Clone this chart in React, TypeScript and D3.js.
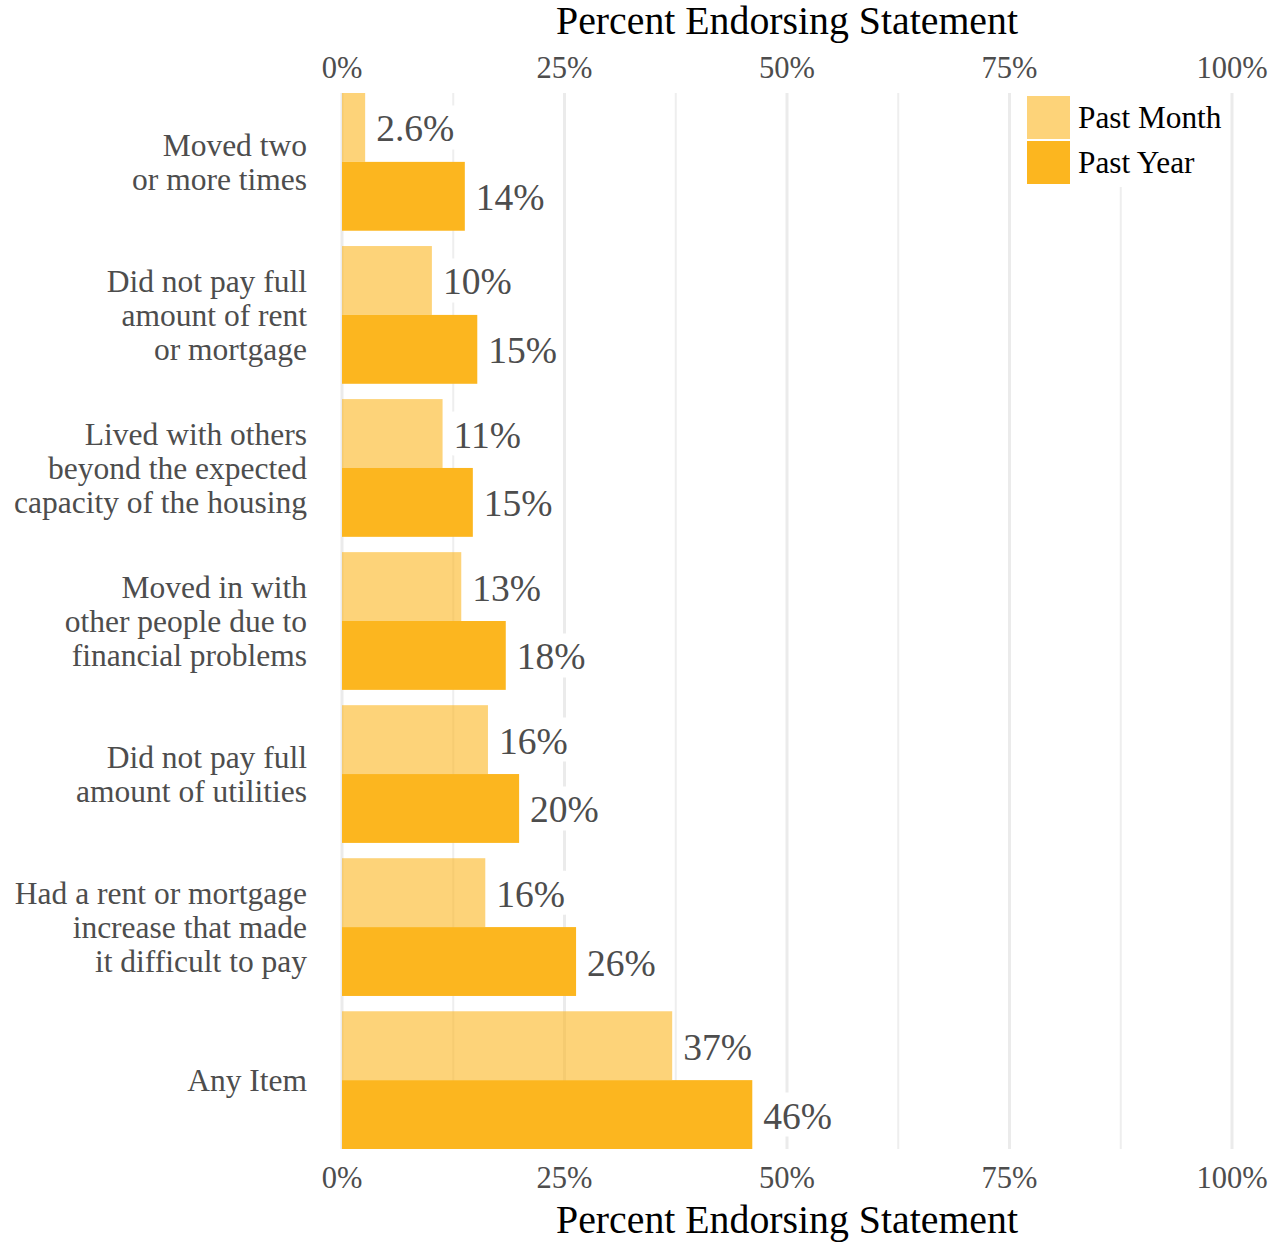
import React from "react";
import * as d3 from "d3";

const categories = [
  "Moved two\nor more times",
  "Did not pay full\namount of rent\nor mortgage",
  "Lived with others\nbeyond the expected\ncapacity of the housing",
  "Moved in with\nother people due to\nfinancial problems",
  "Did not pay full\namount of utilities",
  "Had a rent or mortgage\nincrease that made\nit difficult to pay",
  "Any Item",
];
const pastMonth = [2.6, 10.1, 11.3, 13.4, 16.4, 16.1, 37.1];
const pastYear = [13.8, 15.2, 14.7, 18.4, 19.9, 26.3, 46.1];
const seriesNames = ["Past Month", "Past Year"];
const seriesColors = ["rgba(252,182,31,0.6)", "#FCB61F"];
const majorTicks = [0, 25, 50, 75, 100];
const minorTicks = [12.5, 37.5, 62.5, 87.5];
const axisTitle = "Percent Endorsing Statement";

const W = 1283;
const H = 1243;
const FONT = "'Liberation Serif', 'Times New Roman', serif";

const x = d3.scaleLinear().domain([0, 100]).range([342, 1232]);
const y = d3.scaleBand<number>().domain(d3.range(categories.length)).range([93, 1149]).paddingInner(0.1).paddingOuter(0);
const inner = d3.scaleBand<number>().domain([0, 1]).range([0, y.bandwidth()]);
const fmt = d3.format(".2~r");

function textWidth(s: string, size: number) {
  let w = 0;
  for (const c of s) {
    if (c === "%") w += 0.833;
    else if (c === ".") w += 0.25;
    else w += 0.5;
  }
  return w * size;
}

export default function App() {
  const labelSize = 37.5;
  const data = categories.map((c, i) => ({ c, i, vals: [pastMonth[i], pastYear[i]] }));
  const [top, bottom] = y.range();
  return (
    <svg width={W} height={H} style={{ position: "absolute", left: 0, top: 0, background: "#fff" }} fontFamily={FONT}>
      {/* grid */}
      {minorTicks.map((t) => (
        <line key={"mi" + t} x1={x(t)} x2={x(t)} y1={top} y2={bottom} stroke="#EEEEEE" strokeWidth={2} />
      ))}
      {majorTicks.map((t) => (
        <line key={"ma" + t} x1={x(t)} x2={x(t)} y1={top} y2={bottom} stroke="#EBEBEB" strokeWidth={3} />
      ))}
      {/* bars */}
      {data.map((d) =>
        d.vals.map((v, s) => (
          <rect
            key={`b${d.i}-${s}`}
            x={x(0)}
            y={(y(d.i) as number) + (inner(s) as number)}
            width={x(v) - x(0)}
            height={inner.bandwidth()}
            fill={seriesColors[s]}
          />
        ))
      )}
      {/* value labels */}
      {data.map((d) =>
        d.vals.map((v, s) => {
          const lbl = fmt(v) + "%";
          const cy = (y(d.i) as number) + (inner(s) as number) + inner.bandwidth() / 2;
          const tx = x(v) + 11;
          const tw = textWidth(lbl, labelSize);
          return (
            <g key={`l${d.i}-${s}`}>
              <rect x={tx - 5} y={cy - 22} width={tw + 10} height={44} rx={5} fill="#fff" />
              <text x={tx} y={cy + 14} fontSize={labelSize} fill="#4D4D4D">
                {lbl}
              </text>
            </g>
          );
        })
      )}
      {/* category labels */}
      {data.map((d) => {
        const lines = d.c.split("\n");
        const cy = (y(d.i) as number) + y.bandwidth() / 2;
        const lh = 34;
        const start = cy - ((lines.length - 1) * lh) / 2;
        return (
          <text key={"c" + d.i} x={307} textAnchor="end" fontSize={31.5} fill="#4D4D4D">
            {lines.map((ln, k) => (
              <tspan key={k} x={307} y={start + k * lh + 11}>
                {ln}
              </tspan>
            ))}
          </text>
        );
      })}
      {/* tick labels */}
      {majorTicks.map((t) => (
        <g key={"t" + t}>
          <text x={x(t)} y={78} textAnchor="middle" fontSize={30.5} fill="#4D4D4D">
            {t}%
          </text>
          <text x={x(t)} y={1188} textAnchor="middle" fontSize={30.5} fill="#4D4D4D">
            {t}%
          </text>
        </g>
      ))}
      {/* axis titles */}
      <text x={x(50)} y={34} textAnchor="middle" fontSize={39.8} fill="#000">
        {axisTitle}
      </text>
      <text x={x(50)} y={1233} textAnchor="middle" fontSize={39.8} fill="#000">
        {axisTitle}
      </text>
      {/* legend */}
      <g>
        <rect x={1016} y={88} width={212} height={99} fill="#fff" />
        {seriesNames.map((n, s) => (
          <g key={"lg" + s}>
            <rect x={1027} y={96 + s * 45} width={43} height={43} fill={seriesColors[s]} />
            <text x={1078} y={128 + s * 45} fontSize={31.3} fill="#000">
              {n}
            </text>
          </g>
        ))}
      </g>
    </svg>
  );
}
